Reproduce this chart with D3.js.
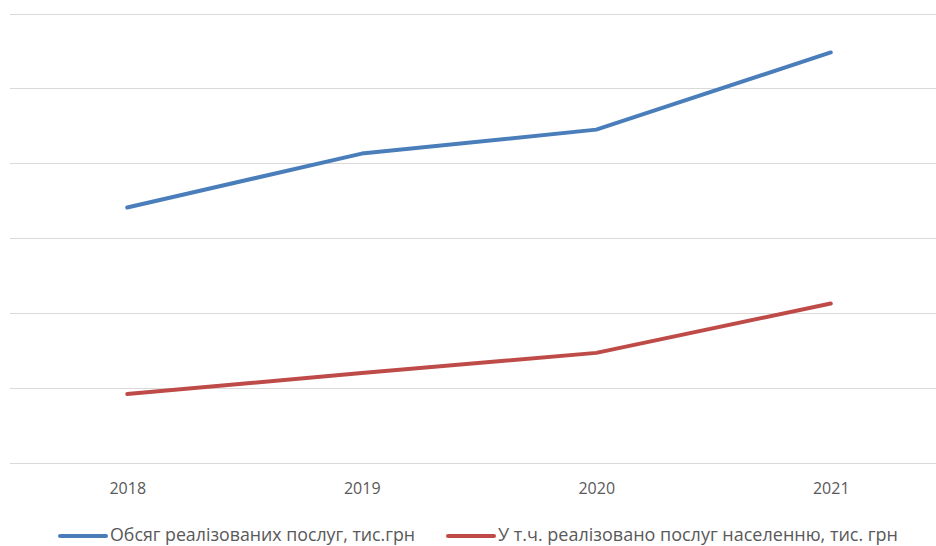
<!DOCTYPE html>
<html><head><meta charset="utf-8">
<script src="https://cdn.jsdelivr.net/npm/d3@7"></script>
<style>body{margin:0;background:#fff}svg{display:block}text{font-family:"Open Sans","Noto Sans",sans-serif}</style>
</head><body><svg id="c" width="936" height="546"></svg>
<script>
const years = ["2018","2019","2020","2021"];
const totalServices = [34.1, 41.3, 44.5, 54.8];
const populationServices = [9.2, 12.0, 14.7, 21.3];
const yTicks = [0,10,20,30,40,50,60];
const seriesNames = ["Обсяг реалізованих послуг, тис.грн","У т.ч. реалізовано послуг населенню, тис. грн"];
const colors = ["#4a7ebb","#be4b48"];

const svg = d3.select("#c");
const x = d3.scalePoint().domain(years).range([10,948]).padding(0.5);
const y = d3.scaleLinear().domain([0,60]).range([463,13.5]);

svg.append("g").selectAll("line").data(yTicks).join("line")
  .attr("x1",10).attr("x2",936).attr("y1",d=>Math.round(y(d))+0.5).attr("y2",d=>Math.round(y(d))+0.5)
  .attr("stroke","#d9d9d9").attr("stroke-width",1);

const xa = svg.append("g").attr("transform","translate(0,463)").call(d3.axisBottom(x).tickSize(0).tickPadding(20));
xa.select(".domain").remove();
xa.selectAll("text").attr("font-size",16).attr("fill","#595959").attr("font-family","'Open Sans',sans-serif");

const line = d3.line().x((d,i)=>x(years[i])).y(d=>y(d));
[totalServices,populationServices].forEach((s,k)=>{
  svg.append("path").datum(s).attr("d",line).attr("fill","none").attr("stroke",colors[k])
    .attr("stroke-width",4).attr("stroke-linecap","round").attr("stroke-linejoin","round");
});

const legX = [60,448];
const legW = [305,400];
seriesNames.forEach((n,k)=>{
  const g = svg.append("g").attr("transform",`translate(${legX[k]},536)`);
  g.append("line").attr("x1",0).attr("x2",46).attr("stroke",colors[k]).attr("stroke-width",4).attr("stroke-linecap","round");
  g.append("text").attr("x",50).attr("y",5).attr("font-size",17.5).attr("fill","#595959")
    .attr("textLength",legW[k]).attr("lengthAdjust","spacingAndGlyphs").text(n);
});
</script></body></html>
